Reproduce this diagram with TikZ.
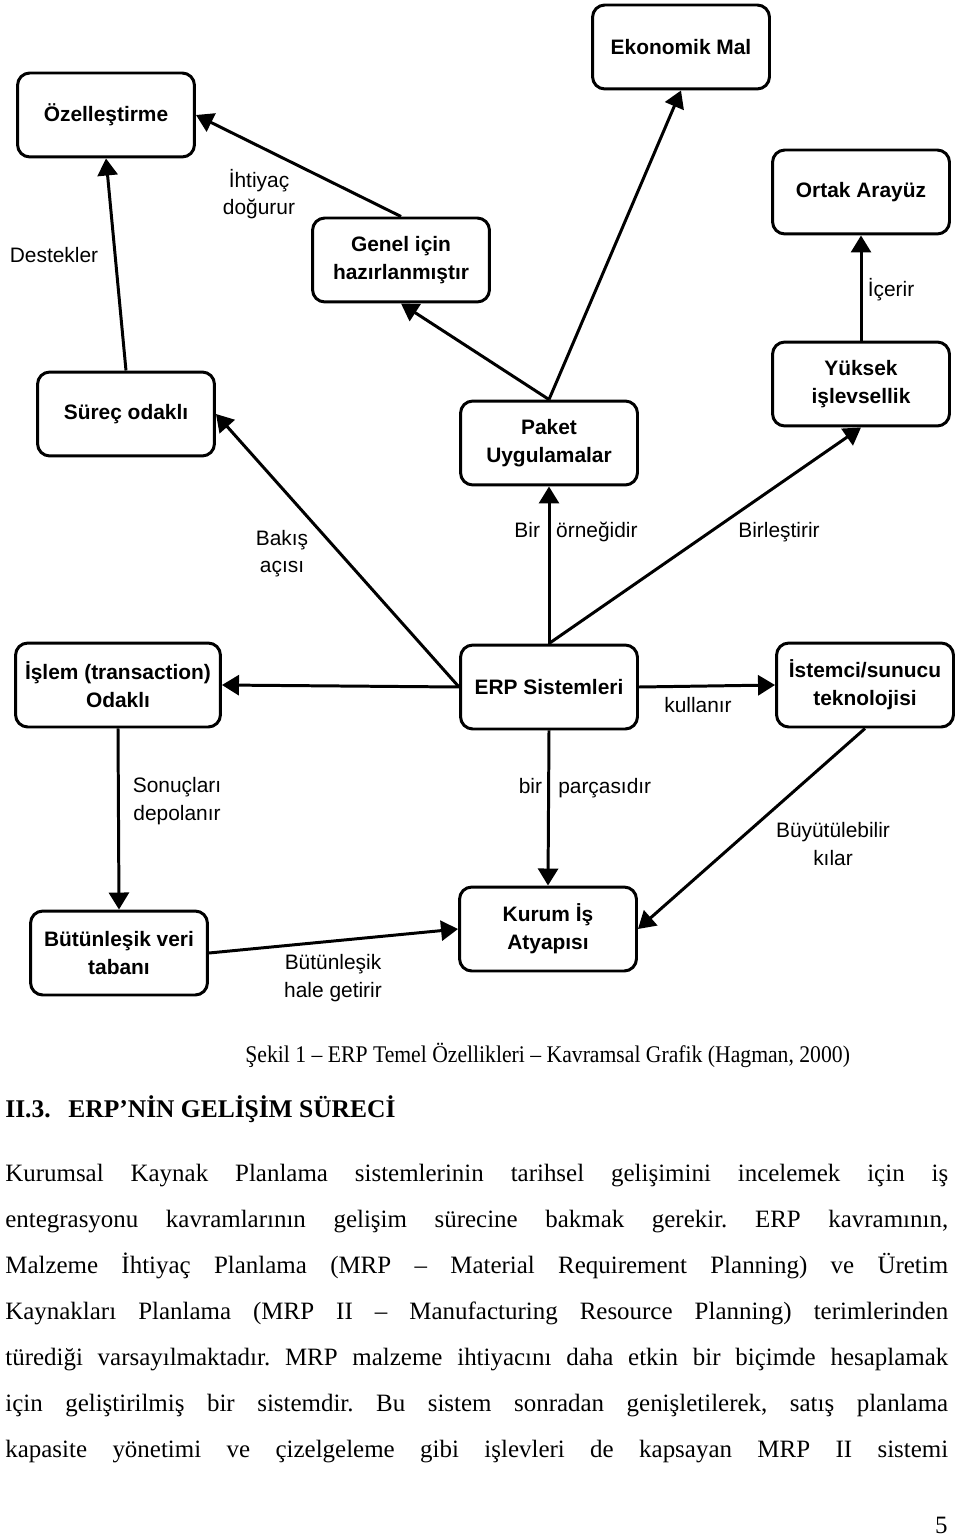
\documentclass[tikz,border=0pt]{standalone}
\usepackage{fontspec}
\setmainfont{Liberation Serif}
\setsansfont{Liberation Sans}
\usepackage{graphicx}
\usepackage{tikz}
\usetikzlibrary{arrows.meta, positioning}
\frenchspacing
\newcommand{\satir}[1]{\makebox[18.86cm][s]{#1}}
\tikzset{
  every picture/.style={font=\sffamily},
  kavram/.style={draw=black, line width=1.7pt, rounded corners=7pt, inner sep=2pt,
              minimum width=3.54cm, minimum height=1.68cm, align=center,
              font=\sffamily\bfseries\fontsize{11.9pt}{15.8pt}\selectfont},
  etiket/.style={align=center, inner sep=0pt, font=\sffamily\fontsize{11.9pt}{15.5pt}\selectfont},
  ok/.style={-{Triangle[length=0.34cm, width=0.4cm]}, line width=1.7pt},
  govde/.style={anchor=base west, inner sep=0pt, font=\rmfamily\fontsize{14.2pt}{16pt}\selectfont},
}
\begin{document}
\begin{tikzpicture}[x=0.02cm, y=-0.02cm]
  \useasboundingbox (0,0) rectangle (960,1540);
  % kavramlar
  \node[kavram] (ozel) at (106,115) {Özelleştirme};
  \node[kavram] (ekonomik) at (681,47) {Ekonomik Mal};
  \node[kavram] (ortak) at (861,192) {Ortak Arayüz};
  \node[kavram] (genel) at (401,260) {Genel için\\hazırlanmıştır};
  \node[kavram] (surec) at (126,414) {Süreç odaklı};
  \node[kavram] (paket) at (549,443) {Paket\\Uygulamalar};
  \node[kavram] (yuksek) at (861,384) {Yüksek\\işlevsellik};
  \node[kavram, minimum width=4.1cm] (islem) at (118,685) {İşlem (transaction)\\Odaklı};
  \node[kavram] (erp) at (549,687) {ERP Sistemleri};
  \node[kavram] (istemci) at (865,685) {İstemci/sunucu\\teknolojisi};
  \node[kavram] (veri) at (119,953) {Bütünleşik veri\\tabanı};
  \node[kavram] (kurum) at (548,929) {Kurum İş\\Atyapısı};
  % baglantilar
  \draw[ok] (surec.north) -- (ozel.south);
  \draw[ok] (genel.north) -- (ozel.east);
  \draw[ok] (paket.north) -- (genel.south);
  \draw[ok] (paket.north) -- (ekonomik.south);
  \draw[ok] (yuksek.north) -- (ortak.south);
  \draw[ok] (erp.north) -- (paket.south);
  \draw[ok] (erp.north) -- (yuksek.south);
  \draw[ok] (erp.west) -- (surec.east);
  \draw[ok] (erp.west) -- (islem.east);
  \draw[ok] (erp.east) -- (istemci.west);
  \draw[ok] (erp.south) -- (kurum.north);
  \draw[ok] (istemci.south) -- (kurum.east);
  \draw[ok] (islem.south) -- (veri.north);
  \draw[ok] (veri.east) -- (kurum.west);
  % etiketler
  \node[etiket] (l1) at (54,255) {Destekler};
  \node[etiket] (l2) at (259,194) {İhtiyaç\\doğurur};
  \node[etiket] (l3) at (891,290) {İçerir};
  \node[etiket] (l4) at (282,554) {Bakış\\açısı};
  \node[etiket] (l5) at (576,532) {Bir\hspace{0.5em} örneğidir};
  \node[etiket] (l6) at (779,532) {Birleştirir};
  \node[etiket] (l7) at (698,705) {kullanır};
  \node[etiket] (l8) at (177,801) {Sonuçları\\depolanır};
  \node[etiket] (l9) at (585,788) {bir\hspace{0.5em} parçasıdır};
  \node[etiket] (l10) at (833,844) {Büyütülebilir\\kılar};
  \node[etiket] (l11) at (333,978) {Bütünleşik\\hale getirir};
  % metin
  \node[govde, font=\rmfamily\fontsize{13.6pt}{16pt}\selectfont] (sekil) at (245,1062) {\scalebox{0.907}[1]{Şekil 1 – ERP Temel Özellikleri – Kavramsal Grafik (Hagman, 2000)}};
  \node[govde, font=\rmfamily\bfseries\fontsize{14.5pt}{17pt}\selectfont] (baslik) at (5,1117) {II.3.\hspace{0.45em} ERP’NİN GELİŞİM SÜRECİ};
  \node[govde] (s1) at (5,1181) {\satir{Kurumsal Kaynak Planlama sistemlerinin tarihsel gelişimini incelemek için iş}};
  \node[govde] (s2) at (5,1227) {\satir{entegrasyonu kavramlarının gelişim sürecine bakmak gerekir. ERP kavramının,}};
  \node[govde] (s3) at (5,1273) {\satir{Malzeme İhtiyaç Planlama (MRP – Material Requirement Planning) ve Üretim}};
  \node[govde] (s4) at (5,1319) {\satir{Kaynakları Planlama (MRP II – Manufacturing Resource Planning) terimlerinden}};
  \node[govde] (s5) at (5,1365) {\satir{türediği varsayılmaktadır. MRP malzeme ihtiyacını daha etkin bir biçimde hesaplamak}};
  \node[govde] (s6) at (5,1411) {\satir{için geliştirilmiş bir sistemdir. Bu sistem sonradan genişletilerek, satış planlama}};
  \node[govde] (s7) at (5,1457) {\satir{kapasite yönetimi ve çizelgeleme gibi işlevleri de kapsayan MRP II sistemi}};
  \node[govde, anchor=base east] (sayfa) at (948,1533) {5};
\end{tikzpicture}
\end{document}
